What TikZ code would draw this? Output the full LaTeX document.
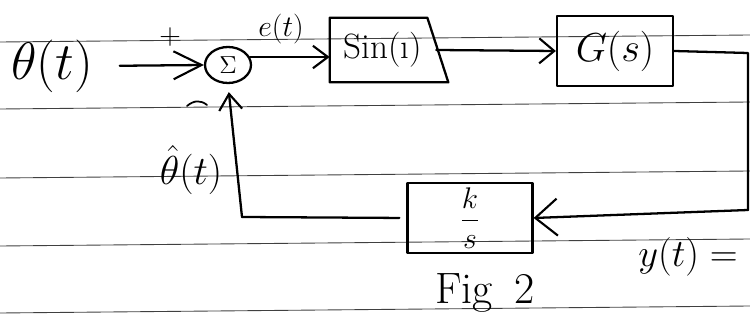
\RequirePackage{fix-cm}
\documentclass[tikz,border=0pt]{standalone}
\usetikzlibrary{arrows.meta,shapes.geometric,calc}
\begin{document}
\begin{tikzpicture}[x=0.02cm,y=-0.02cm,
  ruled/.style={black!75,line width=0.5pt},
  stroke/.style={line width=1.3pt,line cap=round,line join=round},
  blk/.style={stroke,draw,minimum width=2.32cm,minimum height=1.4cm,inner sep=0pt},
  lbl/.style={inner sep=1pt,font=\fontsize{20}{24}\selectfont}]
\useasboundingbox (0,0) rectangle (750,320);
% ruled paper lines
\foreach \a/\b in {42/35,109/102,178/171,246/239,313/306}
  \draw[ruled] (0,\a) -- (750,\b);
% nodes
\node[lbl,font=\fontsize{30}{34}\selectfont] (theta) at (52,66) {$\theta(t)$};
\node[stroke,draw,ellipse,minimum width=0.92cm,minimum height=0.72cm,inner sep=0pt,font=\fontsize{14}{16}\selectfont] (sum) at (228,65) {$\Sigma$};
\node[lbl,font=\fontsize{17}{19}\selectfont] (plus) at (170,37) {$+$};
\node[lbl,font=\fontsize{17}{19}\selectfont] (e) at (281,29) {$e(t)$};
\node[lbl,minimum width=2.12cm,minimum height=1.28cm,inner sep=0pt,font=\fontsize{20}{24}\selectfont] (sin) at (383,50) {Sin(\i)};
\node[blk,font=\fontsize{23}{26}\selectfont] (G) at (615,51) {$G(s)$};
\node[blk,minimum width=2.5cm,font=\fontsize{17}{19}\selectfont] (ks) at (470,218) {$\displaystyle\frac{k}{s}$};
\node[lbl,font=\fontsize{23}{26}\selectfont] (thetahat) at (191,170) {$\hat\theta(t)$};
\node[lbl,font=\fontsize{22}{26}\selectfont] (yt) at (688,257) {$y(t) =$};
\node[lbl,font=\fontsize{25}{29}\selectfont] (fig) at (485,293) {Fig\enspace 2};
\coordinate (out) at (748,53);
\coordinate (back) at (748,210);
\coordinate (fb) at (242,217);
% sin box outline
\draw[stroke] (sin.north west) -- ($(sin.north east)+(-9,0)$) -- ($(sin.south east)+(12,0)$) -- (sin.south west) -- cycle;
% minus mark
\draw[stroke,line width=1pt] (187,106) .. controls (194,100) and (201,100) .. (207,105);
% connectors
\draw[stroke,-{Straight Barb[length=0.56cm,width=0.56cm,line width=1.2pt]},shorten <=0.5cm] (theta.east) -- (sum.west);
\draw[stroke,-{Straight Barb[length=0.3cm,width=0.45cm,line width=1.2pt]}] (sum.20) -- (sum.20 -| sin.west);
\draw[stroke,-{Straight Barb[length=0.3cm,width=0.5cm,line width=1.2pt]}] (sin.east) -- (G.west);
\draw[stroke] (G.east) -- (out) -- (back);
\draw[stroke,-{Straight Barb[length=0.44cm,width=0.74cm,line width=1.2pt]}] (back) -- (ks.east);
\draw[stroke,shorten <=0.14cm] (ks.west) -- (fb);
\draw[stroke,-{Straight Barb[length=0.32cm,width=0.46cm,line width=1.2pt]},shorten >=0.16cm] (fb) -- (sum.south);
\end{tikzpicture}
\end{document}
